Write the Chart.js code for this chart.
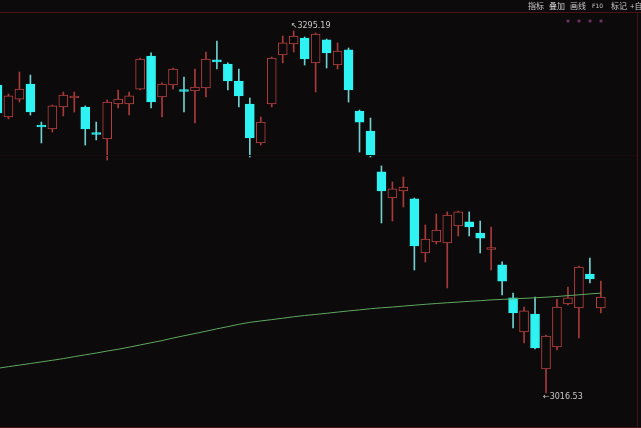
<!DOCTYPE html>
<html><head><meta charset="utf-8">
<script src="https://cdn.jsdelivr.net/npm/chart.js@4"></script>
<style>
html,body{margin:0;padding:0;background:#0c0a0b;overflow:hidden}
#wrap{position:relative;width:641px;height:428px;background:#0c0a0b}
canvas{position:absolute;left:0;top:0}
.tb{position:absolute;top:1px;font:8px "Noto Sans CJK SC",sans-serif;color:#c8c8c8;line-height:9px;white-space:nowrap}
.star{position:absolute;top:19px;font:8px "DejaVu Sans",sans-serif;color:#b04c98;line-height:9px}
.ann{position:absolute;font:8px "DejaVu Sans",sans-serif;color:#c8c8c8;line-height:9px;white-space:nowrap}
.ln{position:absolute;background:#4a1212}
</style></head><body>
<div id="wrap">
<canvas id="c" width="641" height="428"></canvas>
<div class="ln" style="left:0;top:12px;width:641px;height:1px"></div>
<div class="ln" style="left:637px;top:12px;width:1px;height:416px"></div>
<div class="ln" style="left:0;top:427px;width:641px;height:1px"></div>
<div class="ln" style="left:0;top:155px;width:637px;height:1px;background:#170c0c"></div>
<div class="tb" style="left:528px">指标</div>
<div class="tb" style="left:549px">叠加</div>
<div class="tb" style="left:570px">画线</div>
<div class="tb" style="left:592px;font-family:'DejaVu Sans';font-size:6px">F10</div>
<div class="tb" style="left:611px">标记</div>
<div class="tb" style="left:630px">+自</div>
<div class="star" style="left:566px">*</div>
<div class="star" style="left:577px">*</div>
<div class="star" style="left:588px">*</div>
<div class="star" style="left:599px">*</div>
<div class="ann" id="hiLab"></div>
<div class="ann" id="loLab"></div>
</div>
<script>
const categories = [1,2,3,4,5,6,7,8,9,10,11,12,13,14,15,16,17,18,19,20,21,22,23,24,25,26,27,28,29,30,31,32,33,34,35,36,37,38,39,40,41,42,43,44,45,46,47,48,49,50,51,52,53,54,55,56];
const opens = [3253.6,3229.0,3242.8,3254.4,3222.1,3219.8,3236.7,3243.6,3236.7,3216.3,
3212.1,3239.0,3239.0,3250.5,3275.9,3244.4,3253.6,3249.4,3249.0,3251.3,
3272.9,3269.8,3256.7,3239.0,3209.0,3239.0,3276.7,3285.2,3289.8,3270.6,
3288.3,3269.0,3280.6,3233.6,3218.2,3186.7,3166.6,3172.0,3165.9,3124.3,
3132.8,3132.0,3145.1,3148.2,3139.7,3127.0,3115.1,3089.7,3063.5,3077.3,
3035.0,3051.9,3085.0,3082.0,3108.1,3082.0];
const highs = [3255.9,3246.7,3263.6,3261.3,3225.1,3238.2,3248.2,3248.2,3237.5,3225.1,
3242.1,3249.8,3248.2,3274.4,3278.3,3255.2,3266.7,3259.8,3265.9,3279.0,
3287.5,3270.6,3265.9,3243.6,3229.0,3275.2,3291.3,3295.19,3290.6,3293.7,
3289.0,3286.0,3282.1,3234.4,3228.2,3191.3,3179.0,3182.8,3166.6,3145.9,
3154.3,3155.9,3156.6,3155.9,3148.9,3144.3,3117.4,3093.5,3082.7,3090.4,
3061.2,3088.9,3098.1,3114.3,3120.4,3102.7];
const lows = [3229.8,3227.5,3240.5,3230.5,3209.0,3217.4,3229.8,3232.8,3207.4,3211.3,
3195.9,3235.9,3230.5,3249.8,3235.9,3229.0,3250.5,3232.8,3224.4,3244.4,
3265.9,3249.8,3236.7,3198.2,3207.4,3236.7,3270.6,3279.0,3269.0,3248.2,
3266.7,3265.9,3240.5,3202.0,3198.2,3147.4,3148.9,3159.7,3111.2,3117.4,
3131.2,3097.4,3137.4,3137.4,3124.3,3111.2,3092.0,3066.6,3055.0,3050.4,
3016.53,3049.6,3084.3,3058.9,3101.2,3078.1];
const closes = [3232.1,3245.2,3250.5,3232.8,3221.3,3237.5,3245.9,3244.4,3219.8,3215.5,
3240.5,3242.8,3245.2,3273.6,3240.5,3254.4,3265.9,3248.6,3252.1,3273.6,
3271.3,3256.7,3245.2,3212.8,3225.1,3274.4,3286.0,3291.3,3273.6,3292.9,
3278.3,3279.8,3249.8,3225.1,3199.0,3172.0,3173.6,3175.1,3129.7,3135.1,
3142.0,3153.5,3155.9,3144.3,3135.8,3127.8,3102.7,3078.1,3079.7,3051.2,
3060.4,3082.7,3089.7,3113.5,3104.3,3090.4];
const maLine = [3035.5,3036.8,3038.0,3039.2,3040.5,3041.7,3043.0,3044.5,3045.9,3047.3,
3048.8,3050.2,3051.8,3053.5,3055.2,3056.9,3058.8,3060.6,3062.3,3064.1,
3065.9,3067.6,3069.4,3070.9,3072.0,3073.0,3074.1,3075.2,3076.2,3077.0,
3077.9,3078.8,3079.7,3080.5,3081.4,3082.1,3082.7,3083.4,3084.1,3084.8,
3085.4,3086.0,3086.5,3087.1,3087.6,3088.2,3088.6,3089.0,3089.4,3089.8,
3090.3,3090.8,3091.5,3092.1,3092.8,3093.4];
const highLabel = '↖3295.19';
const lowLabel = '←3016.53';

const BG = '#0c0a0b', RED = '#bb4040', CYAN = '#2ff3f3', RED_W = '#a83a3a', CYAN_W = '#70d0d0', MA_C = '#5ea85e';
const up = categories.map((c,i)=>closes[i] >= opens[i]);

const bodies = categories.map((c,i)=>({x:c, y:[Math.min(opens[i],closes[i]), Math.max(opens[i],closes[i])]}));
const wicks = categories.map((c,i)=>({x:c, y:[lows[i], highs[i]]}));
const maData = categories.map((c,i)=>({x:c, y:maLine[i]}));

const labelPlugin = {
  id:'hl',
  afterDraw(chart){
    const xs = chart.scales.x, ys = chart.scales.y;
    let hi = 0, lo = 0;
    highs.forEach((v,i)=>{ if (v > highs[hi]) hi = i; });
    lows.forEach((v,i)=>{ if (v < lows[lo]) lo = i; });
    const h = document.getElementById('hiLab'), l = document.getElementById('loLab');
    h.textContent = highLabel; l.textContent = lowLabel;
    h.style.left = (xs.getPixelForValue(categories[hi]) - 3) + 'px';
    h.style.top = (ys.getPixelForValue(highs[hi]) - 10) + 'px';
    l.style.left = (xs.getPixelForValue(categories[lo]) - 3) + 'px';
    l.style.top = (ys.getPixelForValue(lows[lo]) - 1) + 'px';
  }
};

new Chart(document.getElementById('c'), {
  type:'bar',
  data:{
    datasets:[
      {type:'line', data:maData, borderColor:MA_C, borderWidth:1, pointRadius:0, tension:0, order:0},
      {type:'bar', data:bodies, backgroundColor:up.map(u=>u?BG:CYAN), borderColor:up.map(u=>u?RED:CYAN),
       borderWidth:1, borderSkipped:false, barThickness:9, grouped:false, minBarLength:2, order:1},
      {type:'bar', data:wicks, backgroundColor:up.map(u=>u?RED_W:CYAN_W), borderWidth:0,
       barThickness:1, grouped:false, order:2}
    ]
  },
  options:{
    responsive:false, animation:false, devicePixelRatio:1, events:[],
    layout:{padding:0},
    plugins:{legend:{display:false}, tooltip:{enabled:false}},
    scales:{
      x:{type:'linear', min:1.228, max:59.66, offset:false, display:false},
      y:{type:'linear', min:2989.58, max:3319.05, beginAtZero:false, display:false}
    }
  },
  plugins:[labelPlugin]
});
</script>
</body></html>
